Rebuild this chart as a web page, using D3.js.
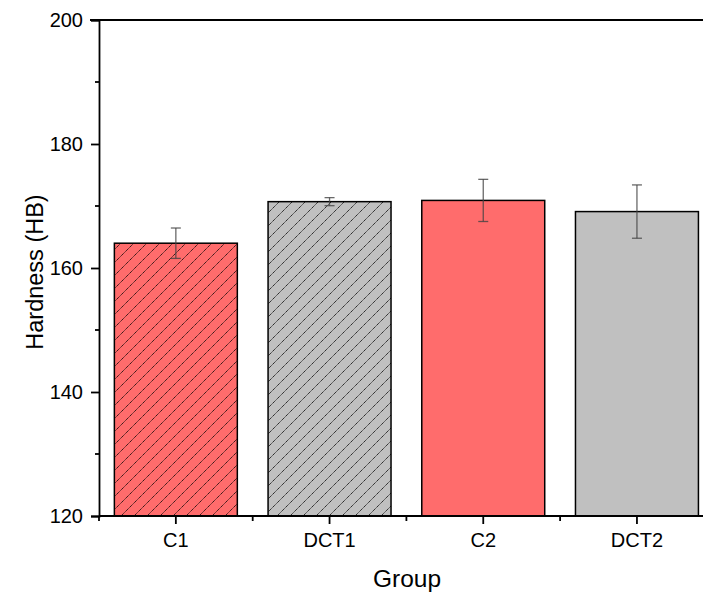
<!DOCTYPE html>
<html><head><meta charset="utf-8">
<script src="https://cdn.jsdelivr.net/npm/d3@7"></script>
<style>body{margin:0;background:#fff}svg{display:block}</style>
</head><body>
<svg id="c" width="703" height="593"></svg>
<script>
const categories = ["C1", "DCT1", "C2", "DCT2"];
const means = [164.0, 170.7, 170.9, 169.1];
const errors = [2.45, 0.65, 3.4, 4.3];
const hatched = [true, true, false, false];
const colors = ["#FF6C6C", "#C0C0C0", "#FF6C6C", "#C0C0C0"];
const yTicks = [120, 140, 160, 180, 200];
const yMinorTicks = [130, 150, 170, 190];

const svg = d3.select("#c");
const font = "'Liberation Sans', Arial, sans-serif";
const x0 = 99, yTop = 20, yBot = 516;
const x = d3.scaleBand().domain(categories).range([x0, x0 + 4 * 153.7]).paddingInner(0.2).paddingOuter(0.1);
const y = d3.scaleLinear().domain([120, 200]).range([yBot, yTop]);

const defs = svg.append("defs");
colors.forEach((c, i) => {
  const p = defs.append("pattern").attr("id", "h" + i).attr("patternUnits", "userSpaceOnUse")
    .attr("width", 13).attr("height", 13);
  p.append("rect").attr("width", 13).attr("height", 13).attr("fill", c);
  p.append("path").attr("d", "M0,13 L13,0 M-6.5,6.5 L6.5,-6.5 M6.5,19.5 L19.5,6.5")
    .attr("stroke", "#000").attr("stroke-width", 0.9).attr("stroke-dasharray", "1.2,0.6");
});

// bars
const bw = x.bandwidth();
svg.append("g").selectAll("rect").data(categories).join("rect")
  .attr("x", d => x(d)).attr("width", bw)
  .attr("y", (d, i) => y(means[i])).attr("height", (d, i) => yBot - y(means[i]))
  .attr("fill", (d, i) => hatched[i] ? `url(#h${i})` : colors[i])
  .attr("stroke", "#000").attr("stroke-width", 1.5);

// error bars
const eg = svg.append("g").attr("stroke", "#444").attr("stroke-opacity", 0.8).attr("stroke-width", 1.3).attr("fill", "none");
categories.forEach((d, i) => {
  const cx = x(d) + bw / 2;
  const t = y(means[i] + errors[i]), b = y(means[i] - errors[i]);
  eg.append("line").attr("x1", cx).attr("x2", cx).attr("y1", t).attr("y2", b);
  eg.append("line").attr("x1", cx - 5).attr("x2", cx + 5).attr("y1", t).attr("y2", t);
  eg.append("line").attr("x1", cx - 5).attr("x2", cx + 5).attr("y1", b).attr("y2", b);
});

// y axis
const ya = svg.append("g").attr("transform", `translate(${x0},0)`)
  .call(d3.axisLeft(y).tickValues(yTicks).tickSize(8).tickPadding(8).tickFormat(d3.format("d")));
ya.attr("font-size", 20).attr("font-family", font);
ya.select(".domain").attr("stroke-width", 1.8);
ya.selectAll(".tick line").attr("stroke-width", 1.8);
ya.selectAll("text").style("font-family", font).style("font-size", "20px").attr("fill", "#000");
svg.append("g").selectAll("line").data(yMinorTicks).join("line")
  .attr("x1", x0 - 4).attr("x2", x0).attr("y1", d => y(d)).attr("y2", d => y(d))
  .attr("stroke", "#000").attr("stroke-width", 1.8);

// top border
svg.append("line").attr("x1", x0 - 9).attr("x2", 703).attr("y1", yTop).attr("y2", yTop)
  .attr("stroke", "#000").attr("stroke-width", 1.8);

// x axis
const xa = svg.append("g").attr("transform", `translate(0,${yBot})`)
  .call(d3.axisBottom(x).tickSize(8).tickPadding(9).tickSizeOuter(0));
xa.attr("font-size", 20).attr("font-family", font);
xa.select(".domain").attr("d", `M${x0},0H703`).attr("stroke-width", 1.8);
xa.selectAll(".tick line").attr("stroke-width", 1.8);
xa.selectAll("text").style("font-family", font).style("font-size", "20px").attr("fill", "#000");
// minor x ticks between bands
const step = x.step();
const minorX = d3.range(0, categories.length + 1).map(k => x0 + k * step);
svg.append("g").selectAll("line").data(minorX.filter(v => v <= 703)).join("line")
  .attr("x1", d => d).attr("x2", d => d).attr("y1", yBot).attr("y2", yBot + 5)
  .attr("stroke", "#000").attr("stroke-width", 1.8);

// labels
svg.append("text").attr("x", 407).attr("y", 587).attr("text-anchor", "middle")
  .style("font-family", font).style("font-size", "24.5px").text("Group");
svg.append("text").attr("transform", `translate(43,272) rotate(-90)`)
  .attr("text-anchor", "middle").style("font-family", font).style("font-size", "23.5px").text("Hardness (HB)");
</script>
</body></html>
